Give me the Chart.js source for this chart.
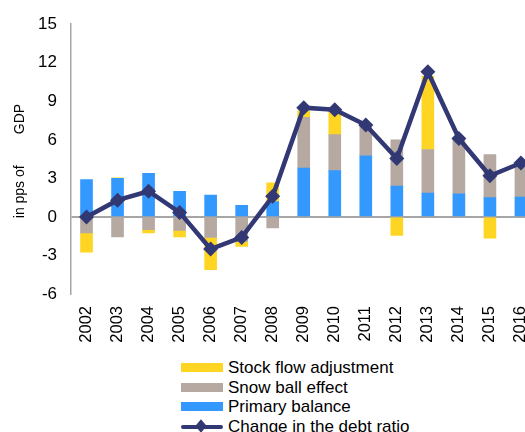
<!DOCTYPE html>
<html lang="en">
<head>
  <meta charset="UTF-8" />
  <title>Change in the debt ratio</title>
  <script src="https://cdn.jsdelivr.net/npm/chart.js"></script>
  <style>
    body { margin: 0; background: #fff; overflow: hidden; width: 525px; height: 432px; }
    #wrap { position: relative; width: 525px; height: 432px; overflow: hidden; }
    canvas { position: absolute; left: 0; top: 0; }
    #legend { position: absolute; left: 181px; top: 358px; font-family: "Liberation Sans", Arial, sans-serif; font-size: 17px; color: #000; }
    .item { height: 19.6px; line-height: 19.6px; white-space: nowrap; display: flex; align-items: center; }
    .box { width: 42px; height: 9px; margin-right: 5px; }
    .lineKey { position: relative; width: 42px; height: 4px; margin-right: 5px; background: #313873; border-radius: 2px; }
    .lineKey span { position: absolute; left: 16px; top: -3px; width: 8px; height: 8px; background: #313873; transform: scaleY(1.2) rotate(45deg); }
  </style>
</head>
<body>
  <div id="wrap">
    <canvas id="chart" width="553" height="352"></canvas>
    <div id="legend"></div>
  </div>

  <script>
    const years = ['2002','2003','2004','2005','2006','2007','2008','2009','2010','2011','2012','2013','2014','2015','2016'];
    const primaryBalance = [2.9, 3.0, 3.4, 2.0, 1.7, 0.9, 1.2, 3.8, 3.6, 4.75, 2.4, 1.85, 1.8, 1.5, 1.55];
    const snowBall = [-1.25, -1.55, -1.0, -1.05, -1.6, -1.9, -0.85, 3.95, 2.8, 2.45, 3.6, 3.4, 4.15, 3.35, 2.45];
    const stockFlow = [-1.5, 0.05, -0.25, -0.5, -2.5, -0.4, 1.45, 0.5, 1.85, 0.0, -1.45, 5.7, 0.0, -1.65, 0.0];
    const debtChange = [0.0, 1.3, 2.0, 0.35, -2.5, -1.6, 1.6, 8.5, 8.35, 7.15, 4.55, 11.3, 6.1, 3.2, 4.2];

    const yTicks = [-6, -3, 0, 3, 6, 9, 12, 15];

    const colors = {
      stock: '#FFD524',
      snow: '#B6A9A1',
      primary: '#3399FF',
      line: '#313873',
      axis: '#A6A6A6'
    };

    // legend drawn as html so items stack one per line
    const legendItems = [
      { label: 'Stock flow adjustment', color: colors.stock },
      { label: 'Snow ball effect', color: colors.snow },
      { label: 'Primary balance', color: colors.primary },
      { label: 'Change in the debt ratio', color: colors.line, line: true }
    ];
    const legend = document.getElementById('legend');
    legendItems.forEach(it => {
      const row = document.createElement('div');
      row.className = 'item';
      const key = document.createElement('div');
      if (it.line) {
        key.className = 'lineKey';
        key.appendChild(document.createElement('span'));
      } else {
        key.className = 'box';
        key.style.background = it.color;
      }
      row.appendChild(key);
      const txt = document.createElement('span');
      txt.textContent = it.label;
      row.appendChild(txt);
      legend.appendChild(row);
    });

    const family = '"Liberation Sans", Arial, sans-serif';

    new Chart(document.getElementById('chart'), {
      data: {
        labels: years,
        datasets: [
          {
            type: 'line',
            label: 'Change in the debt ratio',
            data: debtChange,
            borderColor: colors.line,
            backgroundColor: colors.line,
            borderWidth: 4.5,
            tension: 0,
            pointStyle: 'rectRot',
            pointRadius: 7.5,
            pointBorderWidth: 0,
            stack: 'line',
            order: 0
          },
          {
            type: 'bar',
            label: 'Primary balance',
            data: primaryBalance,
            backgroundColor: colors.primary,
            stack: 'bars',
            barThickness: 12,
            order: 1
          },
          {
            type: 'bar',
            label: 'Snow ball effect',
            data: snowBall,
            backgroundColor: colors.snow,
            stack: 'bars',
            barThickness: 12,
            order: 1
          },
          {
            type: 'bar',
            label: 'Stock flow adjustment',
            data: stockFlow,
            backgroundColor: colors.stock,
            stack: 'bars',
            barThickness: 12,
            order: 1
          }
        ]
      },
      options: {
        responsive: false,
        animation: false,
        layout: { padding: { top: 23, right: 0, bottom: 0, left: 0 } },
        plugins: {
          legend: { display: false },
          tooltip: { enabled: false }
        },
        scales: {
          x: {
            stacked: true,
            offset: true,
            grid: { display: false, drawTicks: false },
            border: { display: false },
            ticks: {
              color: '#000',
              font: { family: family, size: 16.5 },
              minRotation: 90,
              maxRotation: 90,
              padding: 12,
              autoSkip: false
            },
            afterFit: s => { s.height = 58; }
          },
          y: {
            stacked: true,
            min: -6,
            max: 15,
            afterBuildTicks: s => { s.ticks = yTicks.map(v => ({ value: v })); },
            grid: {
              drawTicks: false,
              lineWidth: 2,
              color: ctx => ctx.tick && ctx.tick.value === 0 ? colors.axis : 'rgba(0,0,0,0)'
            },
            border: { display: true, color: colors.axis, width: 1.5 },
            ticks: { color: '#000', font: { family: family, size: 17 }, padding: 14 },
            title: {
              display: true,
              text: 'in pps of        GDP ',
              color: '#000',
              font: { family: family, size: 14 },
              padding: { top: 12, bottom: 0 }
            },
            afterFit: s => { s.width = 71; }
          }
        }
      }
    });
  </script>
</body>
</html>
